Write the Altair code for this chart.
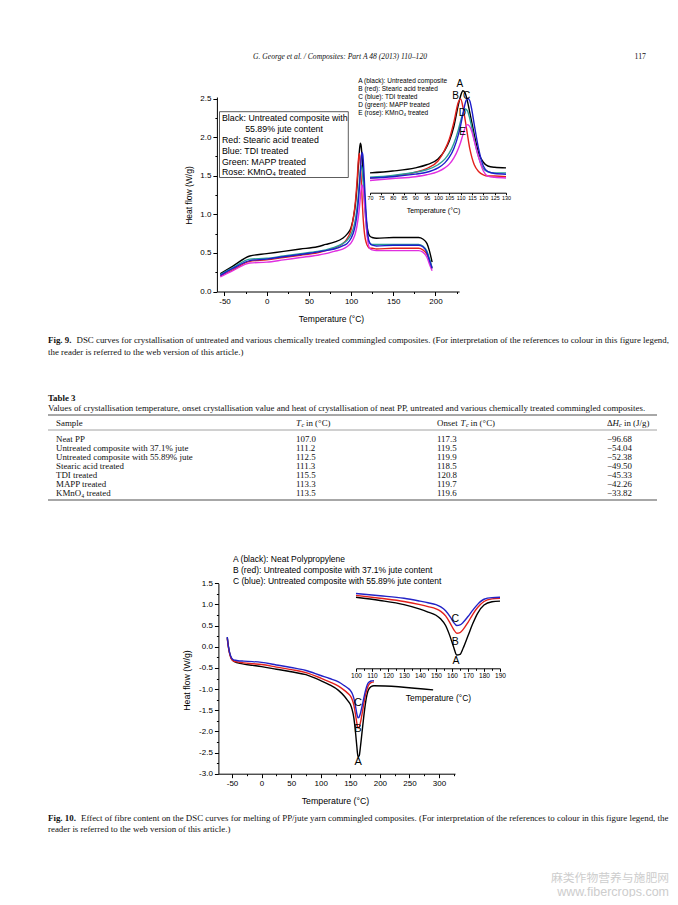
import altair as alt
import pandas as pd

OFF = 8
W, H = 662, 889


def P(v):
    return v - OFF


SANS = "Liberation Sans, Arial, DejaVu Sans, sans-serif"
SERIF = "Liberation Serif, DejaVu Serif, serif"
CJK = "Noto Sans CJK SC, sans-serif"
INK = "#111111"

# ---------------- Fig. 9 data (crystallisation) ----------------
fig9_temp = [-55, -40, -20, 0, 20, 40, 60, 70, 80, 90, 95, 100, 103, 105, 107, 109, 110,
             111, 112, 113, 114, 115, 116, 118, 120, 122, 125, 130, 150, 170, 180, 185,
             190, 193, 196]
fig9_black = [0.23, 0.33, 0.46, 0.49, 0.52, 0.55, 0.58, 0.61, 0.64, 0.69, 0.74, 0.83, 0.97,
              1.12, 1.35, 1.70, 1.84, 1.92, 1.88, 1.75, 1.58, 1.40, 1.22, 0.92, 0.78, 0.72,
              0.70, 0.69, 0.70, 0.70, 0.70, 0.68, 0.62, 0.52, 0.38]
fig9_red = [0.20, 0.28, 0.39, 0.41, 0.44, 0.47, 0.50, 0.53, 0.56, 0.62, 0.68, 0.80, 0.98,
            1.15, 1.42, 1.74, 1.79, 1.66, 1.45, 1.22, 1.00, 0.85, 0.74, 0.63, 0.58, 0.56,
            0.56, 0.55, 0.56, 0.56, 0.56, 0.54, 0.48, 0.40, 0.30]
fig9_green = [0.22, 0.31, 0.42, 0.43, 0.46, 0.49, 0.52, 0.54, 0.57, 0.62, 0.66, 0.74, 0.83,
              0.93, 1.08, 1.30, 1.44, 1.56, 1.63, 1.60, 1.48, 1.32, 1.14, 0.85, 0.68, 0.63,
              0.61, 0.61, 0.61, 0.61, 0.61, 0.59, 0.52, 0.42, 0.31]
fig9_rose = [0.19, 0.27, 0.37, 0.38, 0.41, 0.44, 0.47, 0.49, 0.52, 0.55, 0.58, 0.63, 0.69,
             0.75, 0.85, 1.00, 1.10, 1.22, 1.33, 1.38, 1.35, 1.26, 1.12, 0.85, 0.64, 0.56,
             0.54, 0.53, 0.53, 0.53, 0.53, 0.51, 0.44, 0.35, 0.27]
fig9_blue = [0.21, 0.30, 0.40, 0.42, 0.45, 0.48, 0.51, 0.53, 0.55, 0.59, 0.62, 0.69, 0.77,
             0.86, 1.00, 1.22, 1.37, 1.55, 1.72, 1.80, 1.76, 1.60, 1.38, 0.98, 0.72, 0.63,
             0.60, 0.59, 0.60, 0.60, 0.60, 0.58, 0.50, 0.40, 0.30]
fig9_names = ["A", "B", "D", "E", "C"]
fig9_series = [fig9_black, fig9_red, fig9_green, fig9_rose, fig9_blue]
fig9_colors = ["#000000", "#e3201c", "#2a9d96", "#e02fe0", "#1d1dcc"]

fig9_letters = ["A", "B", "C", "D", "E"]
fig9_letter_T = [109.6, 107.8, 112.6, 110.8, 110.8]
fig9_letter_v = [2.03, 1.83, 1.83, 1.57, 1.27]

# ---------------- Fig. 10 data (melting) ----------------
fig10_temp = [-58, -56, -54, -52, -50, -47, -44, -40, -30, -15, 0, 25, 50, 75, 100, 115,
              130, 140, 145, 150, 153, 156, 159, 161, 163, 165, 167, 170, 173, 176, 180,
              185, 190]
fig10_black = [0.22, 0.0, -0.15, -0.24, -0.30, -0.34, -0.36, -0.38, -0.41, -0.44, -0.47,
               -0.53, -0.59, -0.66, -0.80, -0.90, -1.03, -1.17, -1.26, -1.36, -1.48, -1.68,
               -2.05, -2.35, -2.60, -2.58, -2.38, -2.00, -1.62, -1.30, -1.04, -0.94, -0.92]
fig10_black_tail_T = [290]
fig10_black_tail_v = [-1.02]
fig10_red = [0.20, -0.02, -0.17, -0.26, -0.31, -0.34, -0.35, -0.36, -0.38, -0.40, -0.42,
             -0.48, -0.54, -0.61, -0.74, -0.83, -0.93, -1.03, -1.09, -1.16, -1.24, -1.38,
             -1.62, -1.80, -1.92, -1.90, -1.80, -1.58, -1.33, -1.12, -0.93, -0.85, -0.83]
fig10_blue = [0.23, 0.0, -0.14, -0.23, -0.28, -0.31, -0.32, -0.33, -0.34, -0.35, -0.37,
              -0.43, -0.49, -0.56, -0.68, -0.75, -0.83, -0.92, -0.97, -1.03, -1.10, -1.22,
              -1.42, -1.58, -1.68, -1.66, -1.58, -1.40, -1.20, -1.02, -0.86, -0.81, -0.80]
fig10_names = ["A", "B", "C"]
fig10_colors = ["#000000", "#e3201c", "#2323c6"]

fig10_letters = ["C", "B", "A"]
fig10_letter_T = [163, 163, 163.5]
fig10_letter_v = [-1.32, -1.94, -2.72]
fig10_inset_letter_T = [162, 162, 162.5]
fig10_inset_letter_v = [-1.49, -2.18, -2.78]

# ---------------- Table 3 ----------------
tab_sample = ["Neat PP", "Untreated composite with 37.1% jute",
              "Untreated composite with 55.89% jute", "Stearic acid treated",
              "TDI treated", "MAPP treated", "KMnO\u2084 treated"]
tab_tc = [107.0, 111.2, 112.5, 111.3, 115.5, 113.3, 113.5]
tab_onset = [117.3, 119.5, 119.9, 118.5, 120.8, 119.7, 119.6]
tab_dh = [-96.68, -54.04, -52.38, -49.50, -45.33, -42.26, -33.82]

# ---------------- build tables ----------------
rows = []
for name, vals, col in zip(fig9_names, fig9_series, fig9_colors):
    for t, v in zip(fig9_temp, vals):
        rows.append({"s": name, "T": t, "v": v, "c": col})
df9 = pd.DataFrame(rows)

rows = []
for name, vals, col in zip(fig10_names, [fig10_black, fig10_red, fig10_blue], fig10_colors):
    ts = list(fig10_temp)
    vs = list(vals)
    if name == "A":
        ts += fig10_black_tail_T
        vs += fig10_black_tail_v
    for t, v in zip(ts, vs):
        rows.append({"s": name, "T": t, "v": v, "c": col})
df10 = pd.DataFrame(rows)

df9l = pd.DataFrame({"L": fig9_letters, "T": fig9_letter_T, "v": fig9_letter_v})
df10l = pd.DataFrame({"L": fig10_letters, "T": fig10_letter_T, "v": fig10_letter_v})
df10il = pd.DataFrame({"L": fig10_letters, "T": fig10_inset_letter_T, "v": fig10_inset_letter_v})
dft = pd.DataFrame({"i": list(range(len(tab_sample))), "sample": tab_sample,
                    "tc": tab_tc, "onset": tab_onset, "dh": tab_dh})

one = pd.DataFrame({"k": [0]})


def txt(s, x, y, size, font=SERIF, align="left", weight="normal", style="normal",
        color=INK, angle=None, baseline="middle"):
    kw = dict(align=align, baseline=baseline, fontSize=size, font=font,
              fontWeight=weight, fontStyle=style, color=color)
    if angle is not None:
        kw["angle"] = angle
    return alt.Chart(one).mark_text(**kw).encode(
        x=alt.value(P(x)), y=alt.value(P(y)), text=alt.value(s))


def rule(x1, x2, y1, y2, width=1.0, color=INK):
    return alt.Chart(one).mark_rule(strokeWidth=width, color=color).encode(
        x=alt.value(P(x1)), x2=alt.value(P(x2)), y=alt.value(P(y1)), y2=alt.value(P(y2)))


MINUS = "\u2212"


def lab_expr(test, fmt):
    return f"({test}) ? replace(format(datum.value, '{fmt}'), '{MINUS}', '-') : ''"


def tick_size(test, major, minor):
    return {"condition": {"test": test, "value": major}, "value": minor}


FS = 8.9  # body text size
layers = []

# ================= Header =================
layers.append(txt("G. George et al. / Composites: Part A 48 (2013) 110\u2013120", 340, 57, 7.6,
                  style="italic", align="center"))
layers.append(txt("117", 646, 57, 7.8, align="right"))

# ================= Fig. 9 main =================
x9_dom, x9_rng = [-59, 228], [P(216.9), P(459.1)]
y9_dom, y9_rng = [0, 2.52], [P(291.5), P(97.0)]
t9x = "datum.value % 50 === 0"
t9y = "abs(datum.value * 2 - round(datum.value * 2)) < 0.01"
ax9x = alt.Axis(orient="bottom", offset=P(291.5) - H, values=list(range(-50, 226, 25)),
                labelExpr=lab_expr(t9x, "d"), tickSize=tick_size(t9x, 4, 2),
                labelOverlap=False, labelFlush=False, labelFontSize=8, labelPadding=2,
                title="Temperature (\u00b0C)",
                titleFontSize=8.5, titleX=P(331), titleY=26.5, titleBaseline="middle",
                titleAlign="center", grid=False)
ax9y = alt.Axis(orient="left", offset=-P(216.9), values=[i * 0.25 for i in range(11)],
                labelExpr=lab_expr(t9y, ".1f"), tickSize=tick_size(t9y, 4, 2),
                labelOverlap=False, labelFlush=False, labelFontSize=8, labelPadding=2,
                title="Heat flow (W/g)",
                titleFontSize=8.5, titleX=P(188) - P(216.9), titleY=P(195),
                titleBaseline="middle", titleAlign="center", titleAngle=270, grid=False)

main9 = alt.Chart(df9).mark_line(interpolate="monotone", strokeWidth=1.4).encode(
    x=alt.X("T:Q", scale=alt.Scale(domain=x9_dom, range=x9_rng, nice=False, zero=False), axis=ax9x),
    y=alt.Y("v:Q", scale=alt.Scale(domain=y9_dom, range=y9_rng, nice=False, zero=False), axis=ax9y),
    color=alt.Color("c:N", scale=None),
    detail="s:N",
)
layers.append(main9)

# legend box
layers.append(alt.Chart(one).mark_rect(fill="white", stroke="#333333", strokeWidth=0.8).encode(
    x=alt.value(P(219.5)), x2=alt.value(P(348.3)), y=alt.value(P(111.7)), y2=alt.value(P(177.5))))
box_lines = [("Black: Untreated composite with", 222, 117.5, "left"),
             ("55.89% jute content", 284, 128.5, "center"),
             ("Red: Stearic acid treated", 222, 139.5, "left"),
             ("Blue: TDI treated", 222, 150.5, "left"),
             ("Green: MAPP treated", 222, 161.5, "left"),
             ("Rose: KMnO\u2084 treated", 222, 172.3, "left")]
for s, x, y, a in box_lines:
    layers.append(txt(s, x, y, 8.8, font=SANS, align=a, color="#000000"))

# ================= Fig. 9 inset =================
xi9_dom, xi9_rng = [70, 130], [P(370), P(506)]
yi9_dom, yi9_rng = [0.4, 2.0], [P(186.1), P(85.7)]
axi9x = alt.Axis(orient="bottom", offset=P(192.7) - H, values=list(range(70, 131, 5)),
                 labelExpr=lab_expr("true", "d"), tickSize=2, labelOverlap=False,
                 labelFlush=False, labelFontSize=5.4, labelPadding=1,
                 title="Temperature (\u00b0C)",
                 titleFontSize=7, titleX=P(433), titleY=17.5, titleBaseline="middle",
                 titleAlign="center", grid=False)
inset9 = alt.Chart(df9).transform_filter(
    (alt.datum.T >= 70) & (alt.datum.T <= 130)
).mark_line(interpolate="monotone", strokeWidth=1.4).encode(
    x=alt.X("T:Q", scale=alt.Scale(domain=xi9_dom, range=xi9_rng, nice=False, zero=False), axis=axi9x),
    y=alt.Y("v:Q", scale=alt.Scale(domain=yi9_dom, range=yi9_rng, nice=False, zero=False), axis=None),
    color=alt.Color("c:N", scale=None),
    detail="s:N",
)
layers.append(inset9)
layers.append(alt.Chart(df9l).mark_text(font=SANS, fontSize=10, color="#000000",
                                         baseline="middle", align="center").encode(
    x=alt.X("T:Q", scale=alt.Scale(domain=xi9_dom, range=xi9_rng, nice=False, zero=False), axis=None),
    y=alt.Y("v:Q", scale=alt.Scale(domain=yi9_dom, range=yi9_rng, nice=False, zero=False), axis=None),
    text="L:N"))
inset9_legend = ["A (black): Untreated composite", "B (red): Stearic acid treated",
                 "C (blue): TDI treated", "D (green): MAPP treated",
                 "E (rose): KMnO\u2084 treated"]
for k, s in enumerate(inset9_legend):
    layers.append(txt(s, 358.3, 80.5 + k * 8.0, 6.5, font=SANS, color="#000000"))

# ================= Fig. 9 caption =================
layers.append(txt("Fig. 9.", 48, 340, FS, weight="bold"))
layers.append(txt("DSC curves for crystallisation of untreated and various chemically treated "
                  "commingled composites. (For interpretation of the references to colour in "
                  "this figure legend,", 76.5, 340, FS))
layers.append(txt("the reader is referred to the web version of this article.)", 48, 352, FS))

# ================= Table 3 =================
layers.append(txt("Table 3", 48, 398, FS, weight="bold"))
layers.append(txt("Values of crystallisation temperature, onset crystallisation value and heat of "
                  "crystallisation of neat PP, untreated and various chemically treated commingled "
                  "composites.", 48, 408, FS))
layers.append(rule(48, 657, 415, 415, 1.6, "#8a8a8a"))
layers.append(rule(48, 657, 430, 430, 0.8, "#8a8a8a"))
layers.append(rule(48, 657, 500, 500, 1.6, "#8a8a8a"))
HY = 423
layers.append(txt("Sample", 56, HY, FS))
layers.append(txt("T", 296, HY, FS, style="italic"))
layers.append(txt("c", 301.5, HY + 2, 6.3, style="italic"))
layers.append(txt("in (\u00b0C)", 306, HY, FS))
layers.append(txt("Onset", 437, HY, FS))
layers.append(txt("T", 460.5, HY, FS, style="italic"))
layers.append(txt("c", 466, HY + 2, 6.3, style="italic"))
layers.append(txt("in (\u00b0C)", 470.5, HY, FS))
layers.append(txt("\u0394", 607, HY, FS))
layers.append(txt("H", 612.5, HY, FS, style="italic"))
layers.append(txt("c", 619, HY + 2, 6.3, style="italic"))
layers.append(txt("in (J/g)", 624, HY, FS))

ty = alt.Y("i:Q", scale=alt.Scale(domain=[0, 6], range=[P(439), P(493)], nice=False, zero=False), axis=None)
tbase = alt.Chart(dft)
layers.append(tbase.mark_text(font=SERIF, fontSize=FS, color=INK, align="left", baseline="middle").encode(
    x=alt.value(P(56)), y=ty, text="sample:N"))
layers.append(tbase.mark_text(font=SERIF, fontSize=FS, color=INK, align="left", baseline="middle").encode(
    x=alt.value(P(296)), y=ty, text=alt.Text("tc:Q", format=".1f")))
layers.append(tbase.mark_text(font=SERIF, fontSize=FS, color=INK, align="left", baseline="middle").encode(
    x=alt.value(P(437)), y=ty, text=alt.Text("onset:Q", format=".1f")))
layers.append(tbase.mark_text(font=SERIF, fontSize=FS, color=INK, align="right", baseline="middle").encode(
    x=alt.value(P(632)), y=ty, text=alt.Text("dh:Q", format=".2f")))

# ================= Fig. 10 main =================
x10_dom, x10_rng = [-73, 327], [P(218.4), P(455.0)]
y10_dom, y10_rng = [-3.0, 1.5], [P(773.7), P(583.3)]
t10x = "datum.value % 50 === 0"
t10y = "abs(datum.value * 2 - round(datum.value * 2)) < 0.01"
ax10x = alt.Axis(orient="bottom", offset=P(773.7) - H, values=list(range(-50, 326, 25)),
                 labelExpr=lab_expr(t10x, "d"), tickSize=tick_size(t10x, 4, 2),
                 labelOverlap=False, labelFlush=False, labelFontSize=8, labelPadding=2,
                 title="Temperature (\u00b0C)",
                 titleFontSize=8.8, titleX=P(335), titleY=26.5, titleBaseline="middle",
                 titleAlign="center", grid=False)
ax10y = alt.Axis(orient="left", offset=-P(218.4), values=[-3 + i * 0.25 for i in range(19)],
                 labelExpr=lab_expr(t10y, ".1f"), tickSize=tick_size(t10y, 4, 2),
                 labelOverlap=False, labelFlush=False, labelFontSize=8, labelPadding=2,
                 title="Heat flow (W/g)",
                 titleFontSize=8.8, titleX=P(186) - P(218.4), titleY=P(680),
                 titleBaseline="middle", titleAlign="center", titleAngle=270, grid=False)
main10 = alt.Chart(df10).mark_line(interpolate="monotone", strokeWidth=1.4).encode(
    x=alt.X("T:Q", scale=alt.Scale(domain=x10_dom, range=x10_rng, nice=False, zero=False), axis=ax10x),
    y=alt.Y("v:Q", scale=alt.Scale(domain=y10_dom, range=y10_rng, nice=False, zero=False), axis=ax10y),
    color=alt.Color("c:N", scale=None),
    detail="s:N",
)
layers.append(main10)
layers.append(alt.Chart(df10l).mark_text(font=SANS, fontSize=11, color="#000000",
                                          baseline="middle", align="center").encode(
    x=alt.X("T:Q", scale=alt.Scale(domain=x10_dom, range=x10_rng, nice=False, zero=False), axis=None),
    y=alt.Y("v:Q", scale=alt.Scale(domain=y10_dom, range=y10_rng, nice=False, zero=False), axis=None),
    text="L:N"))
fig10_legend = ["A (black): Neat Polypropylene",
                "B (red): Untreated composite with 37.1% jute content",
                "C (blue): Untreated composite with 55.89% jute content"]
for k, s in enumerate(fig10_legend):
    layers.append(txt(s, 233, 558.5 + k * 11.0, 8.5, font=SANS, color="#000000"))

# ================= Fig. 10 inset =================
xi10_dom, xi10_rng = [100, 190], [P(356), P(500)]
yi10_dom, yi10_rng = [-2.8, -0.5], [P(661.4), P(587.7)]
t10i = "datum.value % 10 === 0"
axi10x = alt.Axis(orient="bottom", offset=P(668.3) - H, values=list(range(100, 191, 5)),
                  labelExpr=lab_expr(t10i, "d"), tickSize=tick_size(t10i, 3, 2),
                  labelOverlap=False, labelFlush=False, labelFontSize=6.6, labelPadding=1,
                  title="Temperature (\u00b0C)", titleFontSize=8.5, titleX=P(438),
                  titleY=28.7, titleBaseline="middle", titleAlign="center", grid=False)
inset10 = alt.Chart(df10).transform_filter(
    (alt.datum.T >= 100) & (alt.datum.T <= 190)
).mark_line(interpolate="monotone", strokeWidth=1.4).encode(
    x=alt.X("T:Q", scale=alt.Scale(domain=xi10_dom, range=xi10_rng, nice=False, zero=False), axis=axi10x),
    y=alt.Y("v:Q", scale=alt.Scale(domain=yi10_dom, range=yi10_rng, nice=False, zero=False), axis=None),
    color=alt.Color("c:N", scale=None),
    detail="s:N",
)
layers.append(inset10)
layers.append(alt.Chart(df10il).mark_text(font=SANS, fontSize=10.5, color="#000000",
                                           baseline="middle", align="center").encode(
    x=alt.X("T:Q", scale=alt.Scale(domain=xi10_dom, range=xi10_rng, nice=False, zero=False), axis=None),
    y=alt.Y("v:Q", scale=alt.Scale(domain=yi10_dom, range=yi10_rng, nice=False, zero=False), axis=None),
    text="L:N"))

# ================= Fig. 10 caption =================
layers.append(txt("Fig. 10.", 48, 818, FS, weight="bold"))
layers.append(txt("Effect of fibre content on the DSC curves for melting of PP/jute yarn commingled "
                  "composites. (For interpretation of the references to colour in this figure "
                  "legend, the", 81, 818, FS))
layers.append(txt("reader is referred to the web version of this article.)", 48, 829, FS))

# ================= watermark =================
layers.append(txt("\u9ebb\u7c7b\u4f5c\u7269\u8425\u517b\u4e0e\u65bd\u80a5\u7f51", 669, 877.5, 11.8,
                  font=CJK, align="right", color="#cdcdcd"))
layers.append(txt("www.fibercrops.com", 669, 891.5, 12.5, font=SANS, align="right", color="#cdcdcd"))

chart = alt.layer(*layers).resolve_scale(
    x="independent", y="independent"
).resolve_axis(
    x="independent", y="independent"
).properties(
    width=W, height=H, padding=0, autosize=alt.AutoSizeParams(type="none"),
    background="white"
).configure_view(stroke=None).configure_axis(
    domainColor="#000000", tickColor="#000000", labelColor="#000000", titleColor="#000000",
    labelFont=SANS, titleFont=SANS, titleFontWeight="normal", domainWidth=1, tickWidth=1
)

chart.save("out.html", embed_options={"renderer": "svg", "actions": False})
